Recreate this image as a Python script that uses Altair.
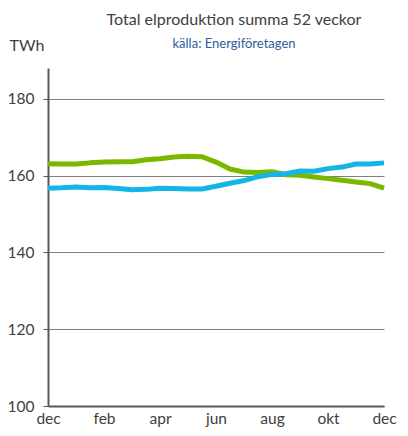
import altair as alt
import pandas as pd

months = [0, 0.5, 1, 1.5, 2, 2.5, 3, 3.5, 4, 4.5, 5, 5.5, 6, 6.5, 7, 7.5, 8, 8.5, 9, 9.5, 10, 10.5, 11, 11.5, 12]
green = [163.1, 163.0, 163.0, 163.3, 163.5, 163.6, 163.6, 164.1, 164.4, 164.8, 165.0, 164.9, 163.5,
         161.7, 160.9, 160.8, 161.0, 160.2, 160.1, 159.6, 159.2, 158.8, 158.3, 157.9, 156.7]
blue = [156.7, 156.8, 157.0, 156.8, 156.9, 156.6, 156.3, 156.4, 156.7, 156.6, 156.5, 156.5, 157.2,
        158.0, 158.7, 159.7, 160.3, 160.5, 161.2, 161.1, 161.8, 162.2, 163.0, 163.0, 163.3]
tick_months = [0, 2, 4, 6, 8, 10, 12]
tick_labels = ["dec", "feb", "apr", "jun", "aug", "okt", "dec"]
y_ticks = [100, 120, 140, 160, 180]

rows = []
for m, g in zip(months, green):
    rows.append({"m": m, "v": g, "s": "a"})
for m, b in zip(months, blue):
    rows.append({"m": m, "v": b, "s": "b"})
df = pd.DataFrame(rows)

label_map = "{" + ",".join(f"'{t}':'{l}'" for t, l in zip(tick_months, tick_labels)) + "}"
FONT = "Lato"

chart = alt.Chart(df).mark_line(strokeWidth=5, strokeJoin="round", strokeCap="butt").encode(
    x=alt.X("m:Q", scale=alt.Scale(domain=[0, 12], nice=False, zero=False),
            axis=alt.Axis(values=tick_months, labelExpr=f"{label_map}[datum.value]", title=None,
                          grid=False, ticks=False, domainColor="#595959", domainWidth=2,
                          labelFont=FONT, labelFontSize=15.5, labelColor="#404040",
                          labelPadding=5, labelOverlap=False, labelBound=False, labelFlush=False)),
    y=alt.Y("v:Q", scale=alt.Scale(domain=[100, 188], nice=False, zero=False),
            axis=alt.Axis(values=y_ticks, title="TWh", titleAngle=0, titleX=-39, titleY=-15,
                          titleAlign="left", titleBaseline="bottom", titleFont=FONT, titleFontSize=16,
                          titleFontWeight="normal", titleColor="#404040",
                          grid=True, gridColor="#7f7f7f", gridWidth=1,
                          ticks=True, tickSize=5, tickColor="#595959", tickWidth=1,
                          domainColor="#595959", domainWidth=2,
                          labelFont=FONT, labelFontSize=15.5, labelColor="#404040", labelPadding=9)),
    color=alt.Color("s:N", scale=alt.Scale(domain=["a", "b"], range=["#7ab800", "#13b5e6"]), legend=None),
    order=alt.Order("m:Q"),
).properties(
    width=336, height=338,
    title=alt.TitleParams(
        text="Total elproduktion summa 52 veckor",
        subtitle="källa: Energiföretagen",
        font=FONT, fontSize=16, fontWeight="normal", color="#404040",
        subtitleFont=FONT, subtitleFontSize=13, subtitleColor="#2e5c99",
        subtitlePadding=10, offset=20, anchor="middle", frame="group", dx=18, dy=34,
    ),
    autosize="none",
    padding={"left": 40, "top": 60, "right": 16, "bottom": 22},
).configure_view(stroke=None)

chart.save("out.html", embed_options={"renderer": "svg", "actions": False})
